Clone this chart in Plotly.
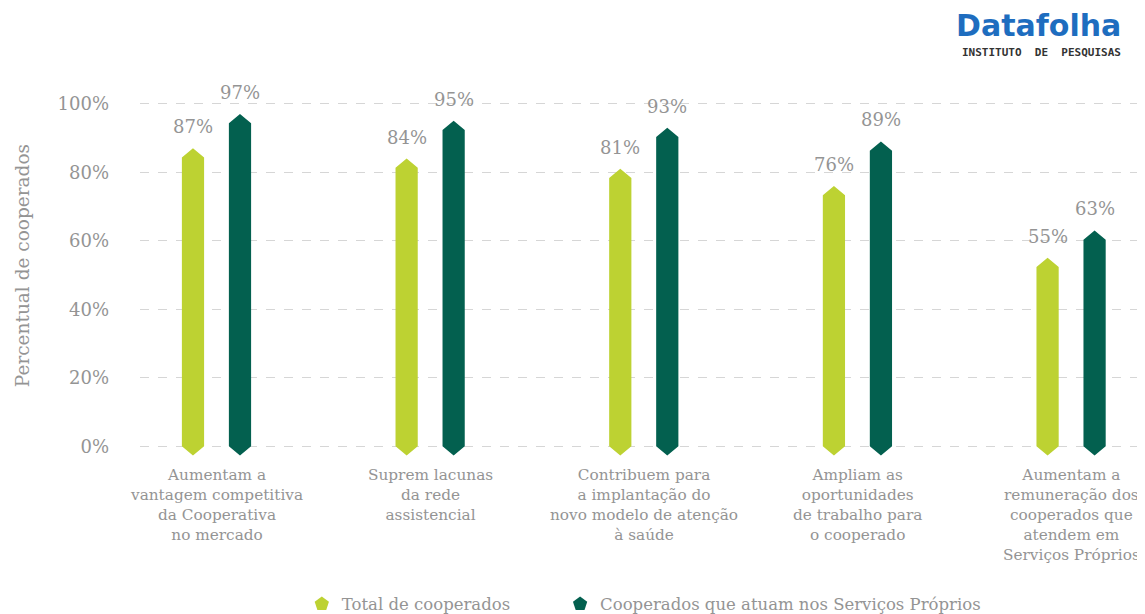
import plotly.graph_objects as go

categories = [
    "Aumentam a<br>vantagem competitiva<br>da Cooperativa<br>no mercado",
    "Suprem lacunas<br>da rede<br>assistencial",
    "Contribuem para<br>a implantação do<br>novo modelo de atenção<br>à saúde",
    "Ampliam as<br>oportunidades<br>de trabalho para<br>o cooperado",
    "Aumentam a<br>remuneração dos<br>cooperados que<br>atendem em<br>Serviços Próprios",
]
total = [87, 84, 81, 76, 55]
proprios = [97, 95, 93, 89, 63]
series_names = ["Total de cooperados", "Cooperados que atuam nos Serviços Próprios"]
colors = ["#bdd232", "#03604f"]
y_ticks = [0, 20, 40, 60, 80, 100]

FONT = "DejaVu Serif"
GRAY = "#949494"

half_w = 0.052   # half bar width in category units
offset = 0.11    # bar offset from group centre
tip = 2.7        # depth of pointed ends, in %

fig = go.Figure()

legends = ["legend", "legend2"]
for s, (vals, off) in enumerate([(total, -offset), (proprios, offset)]):
    xs, ys = [], []
    for i, v in enumerate(vals):
        cx = i + off
        xs += [cx - half_w, cx, cx + half_w, cx + half_w, cx, cx - half_w, cx - half_w, None]
        ys += [v - tip, v, v - tip, 0, -tip, 0, v - tip, None]
        fig.add_annotation(x=cx, y=v, text=f"{v}%", showarrow=False, yanchor="bottom",
                           yshift=9, font=dict(family=FONT, size=18, color=GRAY))
    fig.add_trace(go.Scatter(x=xs, y=ys, fill="toself", fillcolor=colors[s], mode="lines",
                             line=dict(width=0, color=colors[s]), showlegend=False,
                             hoverinfo="skip"))
    # legend entry
    fig.add_trace(go.Scatter(x=[None], y=[None], mode="markers", name=series_names[s],
                             legend=legends[s],
                             marker=dict(symbol="pentagon", size=15, color=colors[s])))

# category labels under each group
for i, c in enumerate(categories):
    fig.add_annotation(x=i, y=0, yref="paper", text=c, showarrow=False, yanchor="top",
                       yshift=-4, font=dict(family=FONT, size=15.3, color=GRAY))

# y axis title
fig.add_annotation(xref="paper", yref="paper", x=-0.117, y=0.525, text="Percentual de cooperados",
                   textangle=-90, showarrow=False, xanchor="center", yanchor="middle",
                   font=dict(family=FONT, size=18.5, color=GRAY))

# logo
fig.add_annotation(xref="paper", yref="paper", x=0.978, y=1.0, yshift=84, xanchor="right",
                   yanchor="top", showarrow=False, text="<b>Datafolha</b>",
                   font=dict(family="DejaVu Sans", size=30, color="#1e6dbf"))
fig.add_annotation(xref="paper", yref="paper", x=0.978, y=1.0, yshift=46, xanchor="right",
                   yanchor="top", showarrow=False,
                   text="<b>INSTITUTO  DE  PESQUISAS</b>",
                   font=dict(family="DejaVu Sans Mono", size=11, color="#333333"))

leg_font = dict(family=FONT, size=16.5, color=GRAY)
fig.update_layout(
    width=1137, height=606,
    margin=dict(l=132, r=0, t=82, b=154, autoexpand=False),
    plot_bgcolor="white", paper_bgcolor="white",
    font=dict(family=FONT, color=GRAY),
    xaxis=dict(range=[-0.358, 4.346], showgrid=False, zeroline=False, showline=False,
               showticklabels=False, ticks=""),
    yaxis=dict(range=[-4, 104], tickvals=y_ticks, ticktext=[f"{t}%" for t in y_ticks],
               showgrid=True, gridcolor="#d6d6d6", griddash="dash", gridwidth=1,
               zeroline=False, showline=False, ticks="", ticklabelstandoff=30,
               tickfont=dict(family=FONT, size=18, color=GRAY)),
    legend=dict(orientation="h", x=0.161, xanchor="left", y=-0.39, yanchor="middle",
                font=leg_font),
    legend2=dict(orientation="h", x=0.418, xanchor="left", y=-0.39, yanchor="middle",
                 font=leg_font),
)

fig.write_html("out.html")
